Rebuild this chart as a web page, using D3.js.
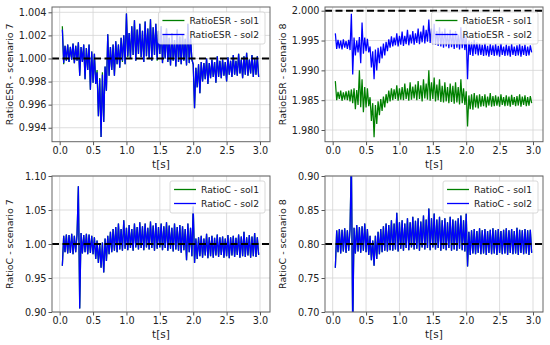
<!DOCTYPE html>
<html>
  <head>
    <meta charset="utf-8">
    <title>RatioESR / RatioC</title>
    <script src="https://d3js.org/d3.v7.min.js"></script>
    <style>
      body { margin: 0; background: #fff; }
      svg { font-family: "DejaVu Sans", sans-serif; }
    </style>
  </head>
  <body>
    <div id="chart"></div>
    <script>
      // sampling of the traces: first sample at 0.04 s, one every 0.02 s
      const tStart = 0.04;
      const tStep = 0.02;

      // RatioESR - scenario 7
      const esr7Sol2 = [
        1.0025, 0.9996, 1.0011, 0.9998, 1.0012, 0.9997, 1.0010, 0.9999, 1.0013, 0.9996,
        1.0011, 0.9998, 1.0014, 0.9985, 1.0010, 0.9997, 1.0012, 0.9982, 1.0009, 0.9990,
        1.0012, 0.9973, 1.0006, 0.9979, 1.0004, 0.9978, 0.9988, 0.9950, 0.9982, 0.9932,
        0.9986, 0.9945, 0.9993, 0.9972, 1.0021, 0.9985, 1.0010, 0.9990, 1.0012, 0.9985,
        1.0015, 0.9995, 1.0012, 0.9992, 1.0018, 0.9998, 1.0020, 0.9995, 1.0039, 1.0002,
        1.0022, 1.0000, 1.0028, 1.0003, 1.0033, 0.9998, 1.0025, 1.0004, 1.0030, 1.0001,
        1.0024, 0.9997, 1.0032, 1.0002, 1.0026, 1.0000, 1.0034, 0.9998, 1.0027, 1.0003,
        1.0030, 0.9999, 1.0024, 1.0004, 1.0028, 0.9996, 1.0020, 1.0000, 1.0026, 0.9997,
        1.0018, 0.9994, 1.0022, 0.9998, 1.0016, 0.9993, 1.0025, 0.9997, 1.0019, 0.9995,
        1.0021, 0.9998, 1.0017, 0.9994, 1.0030, 0.9996, 1.0018, 0.9999, 0.9995, 0.9957,
        0.9992, 0.9975, 0.9995, 0.9970, 0.9997, 0.9980, 0.9996, 0.9982, 1.0000, 0.9978,
        0.9996, 0.9983, 0.9999, 0.9984, 0.9997, 0.9979, 1.0002, 0.9984, 0.9998, 0.9983,
        0.9999, 0.9985, 0.9997, 0.9980, 1.0001, 0.9986, 0.9998, 0.9984, 1.0003, 0.9986,
        0.9998, 0.9985, 1.0004, 0.9987, 0.9999, 0.9983, 1.0002, 0.9986, 1.0005, 0.9985,
        0.9999, 0.9987, 1.0003, 0.9984, 1.0000, 0.9986, 1.0002, 0.9984
      ];
      const esr7Sol1 = [
        1.0028, 0.9995, 1.0011, 0.9998, 1.0012, 0.9997, 1.0010, 0.9999, 1.0013, 0.9996,
        1.0011, 0.9998, 1.0014, 0.9985, 1.0010, 0.9997, 1.0012, 0.9982, 1.0009, 0.9990,
        1.0012, 0.9973, 1.0006, 0.9979, 1.0004, 0.9978, 0.9990, 0.9950, 0.9983, 0.9932,
        0.9988, 0.9945, 0.9993, 0.9972, 1.0021, 0.9985, 1.0010, 0.9990, 1.0012, 0.9985,
        1.0015, 0.9995, 1.0012, 0.9992, 1.0018, 0.9997, 1.0020, 0.9995, 1.0039, 1.0001,
        1.0022, 1.0000, 1.0028, 1.0003, 1.0033, 0.9998, 1.0025, 1.0004, 1.0030, 1.0001,
        1.0024, 0.9997, 1.0032, 1.0002, 1.0026, 1.0000, 1.0034, 0.9998, 1.0027, 1.0003,
        1.0030, 0.9998, 1.0024, 1.0004, 1.0028, 0.9996, 1.0020, 1.0000, 1.0026, 0.9997,
        1.0018, 0.9994, 1.0022, 0.9998, 1.0016, 0.9993, 1.0025, 0.9997, 1.0019, 0.9995,
        1.0021, 0.9998, 1.0017, 0.9994, 1.0030, 0.9996, 1.0018, 0.9999, 0.9995, 0.9957,
        0.9992, 0.9975, 0.9995, 0.9970, 0.9997, 0.9980, 0.9996, 0.9982, 1.0000, 0.9978,
        0.9996, 0.9983, 0.9999, 0.9984, 0.9997, 0.9979, 1.0002, 0.9984, 0.9998, 0.9983,
        0.9999, 0.9985, 0.9997, 0.9980, 1.0001, 0.9986, 0.9998, 0.9984, 1.0003, 0.9986,
        0.9998, 0.9985, 1.0004, 0.9987, 0.9999, 0.9983, 1.0002, 0.9986, 1.0005, 0.9985,
        0.9999, 0.9987, 1.0003, 0.9984, 1.0000, 0.9986, 1.0002, 0.9984
      ];

      // RatioESR - scenario 8
      const esr8Sol1 = [
        1.9882, 1.9850, 1.9864, 1.9852, 1.9866, 1.9849, 1.9863, 1.9851, 1.9865, 1.9850,
        1.9866, 1.9848, 1.9868, 1.9845, 1.9870, 1.9835, 1.9867, 1.9842, 1.9900, 1.9838,
        1.9885, 1.9830, 1.9872, 1.9838, 1.9870, 1.9840, 1.9855, 1.9815, 1.9845, 1.9788,
        1.9842, 1.9810, 1.9848, 1.9825, 1.9852, 1.9832, 1.9856, 1.9838, 1.9860, 1.9845,
        1.9866, 1.9848, 1.9870, 1.9850, 1.9868, 1.9852, 1.9875, 1.9849, 1.9870, 1.9851,
        1.9872, 1.9850, 1.9878, 1.9852, 1.9870, 1.9849, 1.9880, 1.9851, 1.9873, 1.9853,
        1.9876, 1.9850, 1.9882, 1.9852, 1.9875, 1.9848, 1.9885, 1.9853, 1.9878, 1.9851,
        1.9900, 1.9849, 1.9880, 1.9852, 1.9888, 1.9848, 1.9876, 1.9850, 1.9885, 1.9847,
        1.9874, 1.9846, 1.9880, 1.9848, 1.9872, 1.9845, 1.9878, 1.9847, 1.9874, 1.9844,
        1.9880, 1.9846, 1.9872, 1.9843, 1.9885, 1.9845, 1.9870, 1.9842, 1.9865, 1.9806,
        1.9858, 1.9835, 1.9860, 1.9834, 1.9862, 1.9838, 1.9858, 1.9836, 1.9860, 1.9839,
        1.9857, 1.9840, 1.9860, 1.9838, 1.9856, 1.9841, 1.9862, 1.9839, 1.9857, 1.9840,
        1.9858, 1.9841, 1.9856, 1.9839, 1.9860, 1.9842, 1.9855, 1.9840, 1.9858, 1.9841,
        1.9856, 1.9839, 1.9859, 1.9842, 1.9855, 1.9840, 1.9857, 1.9841, 1.9860, 1.9839,
        1.9856, 1.9842, 1.9858, 1.9840, 1.9855, 1.9841, 1.9857, 1.9845
      ];
      const esr8Sol2 = [
        1.9962, 1.9936, 1.9951, 1.9937, 1.9950, 1.9935, 1.9952, 1.9938, 1.9949, 1.9936,
        1.9951, 1.9934, 1.9995, 1.9893, 1.9955, 1.9925, 1.9950, 1.9930, 1.9956, 1.9912,
        1.9980, 1.9928, 1.9955, 1.9932, 1.9953, 1.9930, 1.9940, 1.9905, 1.9932, 1.9885,
        1.9935, 1.9900, 1.9938, 1.9912, 1.9940, 1.9920, 1.9945, 1.9925, 1.9948, 1.9932,
        1.9952, 1.9938, 1.9957, 1.9940, 1.9955, 1.9942, 1.9962, 1.9940, 1.9958, 1.9943,
        1.9965, 1.9941, 1.9958, 1.9944, 1.9968, 1.9942, 1.9960, 1.9945, 1.9966, 1.9943,
        1.9962, 1.9946, 1.9970, 1.9944, 1.9965, 1.9947, 1.9975, 1.9945, 1.9968, 1.9948,
        1.9985, 1.9946, 1.9970, 1.9944, 1.9978, 1.9943, 1.9966, 1.9941, 1.9972, 1.9940,
        1.9965, 1.9938, 1.9970, 1.9940, 1.9962, 1.9937, 1.9968, 1.9939, 1.9963, 1.9936,
        1.9966, 1.9938, 1.9960, 1.9935, 1.9972, 1.9937, 1.9962, 1.9934, 1.9958, 1.9885,
        1.9950, 1.9926, 1.9948, 1.9924, 1.9951, 1.9927, 1.9947, 1.9925, 1.9945, 1.9926,
        1.9943, 1.9924, 1.9946, 1.9925, 1.9941, 1.9923, 1.9944, 1.9926, 1.9942, 1.9924,
        1.9944, 1.9925, 1.9941, 1.9923, 1.9945, 1.9926, 1.9940, 1.9924, 1.9943, 1.9925,
        1.9941, 1.9923, 1.9944, 1.9926, 1.9940, 1.9924, 1.9942, 1.9925, 1.9944, 1.9923,
        1.9941, 1.9926, 1.9943, 1.9924, 1.9940, 1.9925, 1.9942, 1.9930
      ];

      // RatioC - scenario 7 (sol1 lies exactly under sol2 in the picture)
      const c7Sol2 = [
        0.968, 1.012, 0.988, 1.014, 0.986, 1.013, 0.987, 1.015, 0.985, 1.012,
        0.988, 1.014, 1.085, 0.905, 1.016, 0.986, 1.013, 0.988, 1.015, 0.985,
        1.014, 0.987, 1.012, 0.985, 1.010, 0.978, 1.005, 0.972, 1.000, 0.965,
        1.002, 0.958, 1.008, 0.975, 1.012, 0.985, 1.018, 0.988, 1.022, 0.990,
        1.025, 0.988, 1.030, 0.992, 1.022, 0.990, 1.035, 0.993, 1.024, 0.991,
        1.028, 0.994, 1.022, 0.990, 1.030, 0.995, 1.025, 0.992, 1.032, 0.994,
        1.026, 0.991, 1.030, 0.995, 1.024, 0.992, 1.033, 0.994, 1.027, 0.990,
        1.031, 0.993, 1.025, 0.995, 1.030, 0.991, 1.026, 0.994, 1.032, 0.990,
        1.027, 0.993, 1.024, 0.989, 1.030, 0.992, 1.025, 0.990, 1.028, 0.987,
        1.026, 0.991, 1.022, 0.976, 1.030, 0.988, 1.024, 0.982, 1.055, 0.972,
        1.008, 0.978, 1.010, 0.982, 1.012, 0.980, 1.008, 0.983, 1.015, 0.979,
        1.010, 0.982, 1.012, 0.980, 1.009, 0.983, 1.014, 0.981, 1.010, 0.984,
        1.011, 0.980, 1.008, 0.982, 1.013, 0.979, 1.010, 0.983, 1.012, 0.981,
        1.009, 0.984, 1.014, 0.980, 1.011, 0.982, 1.018, 0.981, 1.010, 0.983,
        1.013, 0.980, 1.011, 0.982, 1.016, 0.981, 1.010, 0.984
      ];
      const c7Sol1 = c7Sol2;

      // RatioC - scenario 8 (sol1 lies exactly under sol2 in the picture)
      const c8Sol2 = [
        0.765, 0.820, 0.788, 0.822, 0.786, 0.821, 0.789, 0.823, 0.787, 0.820,
        0.790, 0.822, 0.930, 0.670, 0.824, 0.786, 0.828, 0.789, 0.825, 0.787,
        0.826, 0.790, 0.830, 0.788, 0.822, 0.784, 0.812, 0.776, 0.805, 0.768,
        0.812, 0.778, 0.818, 0.785, 0.822, 0.788, 0.826, 0.790, 0.830, 0.789,
        0.828, 0.791, 0.835, 0.790, 0.830, 0.792, 0.846, 0.789, 0.832, 0.793,
        0.835, 0.790, 0.830, 0.794, 0.838, 0.791, 0.832, 0.795, 0.840, 0.792,
        0.834, 0.793, 0.838, 0.790, 0.833, 0.795, 0.842, 0.792, 0.836, 0.794,
        0.852, 0.791, 0.838, 0.795, 0.845, 0.792, 0.836, 0.794, 0.840, 0.790,
        0.835, 0.793, 0.838, 0.791, 0.832, 0.794, 0.840, 0.790, 0.836, 0.792,
        0.834, 0.790, 0.838, 0.793, 0.842, 0.791, 0.835, 0.789, 0.845, 0.767,
        0.818, 0.784, 0.820, 0.786, 0.822, 0.785, 0.819, 0.787, 0.823, 0.785,
        0.820, 0.786, 0.822, 0.784, 0.819, 0.787, 0.821, 0.785, 0.823, 0.786,
        0.820, 0.784, 0.822, 0.787, 0.819, 0.785, 0.821, 0.786, 0.823, 0.784,
        0.820, 0.787, 0.822, 0.785, 0.819, 0.786, 0.824, 0.784, 0.821, 0.787,
        0.820, 0.785, 0.822, 0.786, 0.820, 0.784, 0.821, 0.787
      ];
      const c8Sol1 = c8Sol2;

      // tick labels
      const xTicks = [0, 0.5, 1, 1.5, 2, 2.5, 3];
      const esr7Ticks = [0.994, 0.996, 0.998, 1.000, 1.002, 1.004];
      const esr8Ticks = [1.980, 1.985, 1.990, 1.995, 2.000];
      const c7Ticks = [0.90, 0.95, 1.00, 1.05, 1.10];
      const c8Ticks = [0.70, 0.75, 0.80, 0.85, 0.90];

      const W = 550, H = 345;
      const svg = d3.select("#chart").append("svg")
        .attr("width", W)
        .attr("height", H);

      const green = "#008000", blue = "#0000ff";

      const panels = [
        { left: 52, top: 7, bottom: 141.7, yDomain: [0.99279, 1.00446], ticks: esr7Ticks, fmt: ".3f",
          ref: 1.000, ylabel: "RatioESR - scenario 7", name: "RatioESR", sol1: esr7Sol1, sol2: esr7Sol2 },
        { left: 325, top: 7, bottom: 141.7, yDomain: [1.97804, 2.00062], ticks: esr8Ticks, fmt: ".3f",
          ref: 2.000, ylabel: "RatioESR - scenario 8", name: "RatioESR", sol1: esr8Sol1, sol2: esr8Sol2 },
        { left: 52, top: 176, bottom: 312, yDomain: [0.90, 1.10], ticks: c7Ticks, fmt: ".2f",
          ref: 1.00, ylabel: "RatioC - scenario 7", name: "RatioC", sol1: c7Sol1, sol2: c7Sol2 },
        { left: 325, top: 176, bottom: 312, yDomain: [0.70, 0.90], ticks: c8Ticks, fmt: ".2f",
          ref: 0.80, ylabel: "RatioC - scenario 8", name: "RatioC", sol1: c8Sol1, sol2: c8Sol2 }
      ];
      const plotW = 218;

      panels.forEach(function(p, k) {
        const x = d3.scaleLinear().domain([-0.115, 3.15]).range([p.left, p.left + plotW]);
        const y = d3.scaleLinear().domain(p.yDomain).range([p.bottom, p.top]);
        const g = svg.append("g");

        // grid
        g.selectAll(".gx").data(xTicks).enter().append("line")
          .attr("x1", d => x(d)).attr("x2", d => x(d))
          .attr("y1", p.top).attr("y2", p.bottom)
          .attr("stroke", "#d4d4d4").attr("stroke-width", 0.8);
        g.selectAll(".gy").data(p.ticks).enter().append("line")
          .attr("x1", p.left).attr("x2", p.left + plotW)
          .attr("y1", d => y(d)).attr("y2", d => y(d))
          .attr("stroke", "#d4d4d4").attr("stroke-width", 0.8);

        // clip
        svg.append("clipPath").attr("id", "clip" + k)
          .append("rect")
          .attr("x", p.left).attr("y", p.top)
          .attr("width", plotW).attr("height", p.bottom - p.top);

        const line = d3.line()
          .x((d, i) => x(tStart + i * tStep))
          .y(d => y(d));

        const traces = g.append("g").attr("clip-path", "url(#clip" + k + ")");
        traces.append("path").datum(p.sol1)
          .attr("d", line).attr("fill", "none")
          .attr("stroke", green).attr("stroke-width", 1.25);
        traces.append("path").datum(p.sol2)
          .attr("d", line).attr("fill", "none")
          .attr("stroke", blue).attr("stroke-width", 1.25);

        // reference level
        traces.append("line")
          .attr("x1", p.left).attr("x2", p.left + plotW)
          .attr("y1", y(p.ref)).attr("y2", y(p.ref))
          .attr("stroke", "#000").attr("stroke-width", 2)
          .attr("stroke-dasharray", "7,3.5");

        // axes
        const xAxis = d3.axisBottom(x).tickValues(xTicks).tickFormat(d3.format(".1f")).tickSizeOuter(0).tickSize(3.5);
        const yAxis = d3.axisLeft(y).tickValues(p.ticks).tickFormat(d3.format(p.fmt)).tickSizeOuter(0).tickSize(3.5);
        const gx = g.append("g").attr("transform", "translate(0," + p.bottom + ")").call(xAxis);
        const gy = g.append("g").attr("transform", "translate(" + p.left + ",0)").call(yAxis);
        [gx, gy].forEach(function(a) {
          a.select(".domain").remove();
          a.selectAll("line").attr("stroke", "#555");
          a.selectAll("text").attr("fill", "#222").style("font-size", "9.7px")
            .style("font-family", "DejaVu Sans, sans-serif");
        });
        gx.selectAll("text").attr("dy", "0.71em").attr("y", 5.5);
        gy.selectAll("text").attr("x", -5.5);

        // frame
        g.append("rect")
          .attr("x", p.left).attr("y", p.top)
          .attr("width", plotW).attr("height", p.bottom - p.top)
          .attr("fill", "none").attr("stroke", "#666").attr("stroke-width", 1);

        // labels
        g.append("text")
          .attr("x", p.left + plotW / 2).attr("y", p.bottom + 26)
          .attr("text-anchor", "middle")
          .style("font-size", "10.5px").attr("fill", "#222")
          .text("t[s]");
        g.append("text")
          .attr("transform", "translate(" + (p.left - 39) + "," + ((p.top + p.bottom) / 2) + ") rotate(-90)")
          .attr("text-anchor", "middle")
          .style("font-size", "9.5px").attr("fill", "#222")
          .text(p.ylabel);

        // legend
        const lg = g.append("g");
        const box = lg.append("rect").attr("rx", 2).attr("ry", 2)
          .attr("fill", "#fff").attr("fill-opacity", 0.8)
          .attr("stroke", "#cfcfcf").attr("stroke-width", 0.8);
        const items = [[p.name + " - sol1", green], [p.name + " - sol2", blue]];
        let maxW = 0;
        const texts = [];
        items.forEach(function(it, j) {
          const t = lg.append("text").style("font-size", "9.2px").attr("fill", "#222")
            .attr("dy", "0.35em").text(it[0]);
          texts.push(t);
          maxW = Math.max(maxW, t.node().getComputedTextLength());
        });
        const bw = maxW + 37;
        const bx = p.left + plotW - 5 - bw;
        const by = p.top + 5;
        box.attr("x", bx).attr("y", by).attr("width", bw).attr("height", 32);
        items.forEach(function(it, j) {
          const ry = by + 8.5 + j * 14;
          lg.append("line")
            .attr("x1", bx + 4).attr("x2", bx + 26)
            .attr("y1", ry).attr("y2", ry)
            .attr("stroke", it[1]).attr("stroke-width", 1.3);
          texts[j].attr("x", bx + 31).attr("y", ry);
        });
      });
    </script>
  </body>
</html>
